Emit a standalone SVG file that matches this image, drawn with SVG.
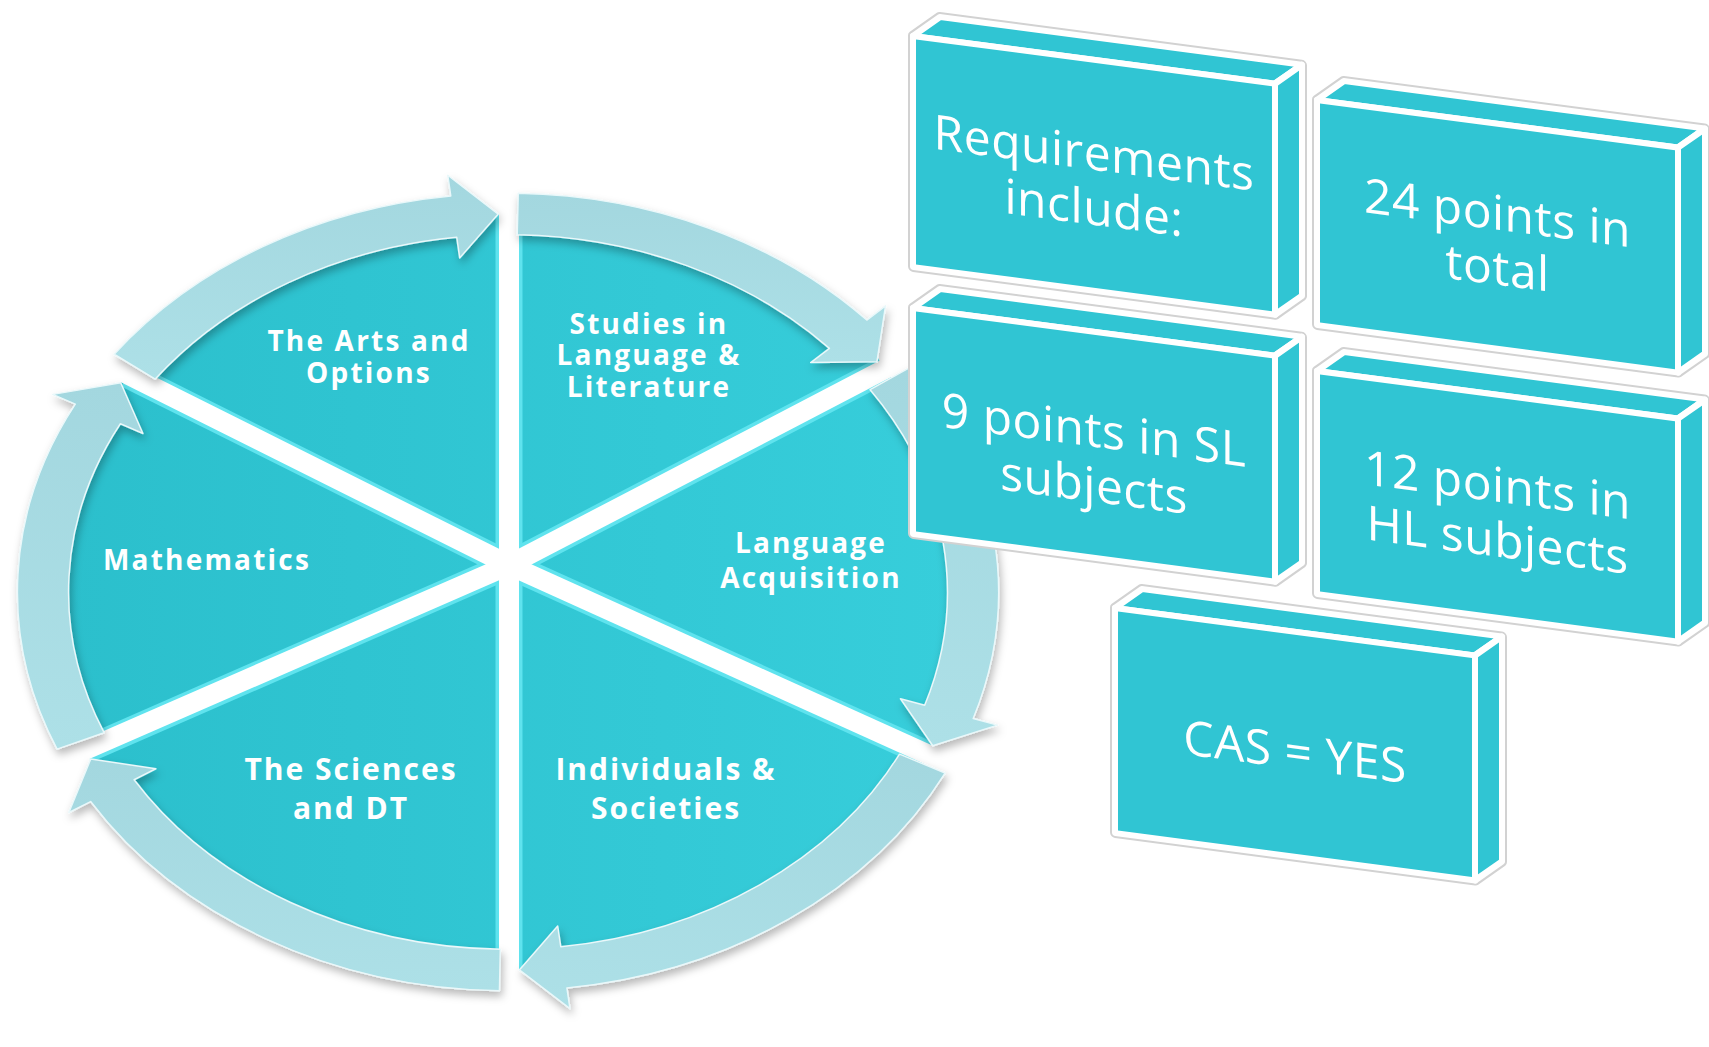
<svg xmlns="http://www.w3.org/2000/svg" width="1709" height="1047" viewBox="0 0 1709 1047">
  <defs>
    <linearGradient id="secGrad" x1="0" y1="0" x2="1" y2="0">
      <stop offset="0" stop-color="#2bbfcc"/>
      <stop offset="1" stop-color="#37cedb"/>
    </linearGradient>
    <linearGradient id="ringGrad" x1="0" y1="0" x2="0" y2="1">
      <stop offset="0" stop-color="#a3d7df"/>
      <stop offset="1" stop-color="#ade0e7"/>
    </linearGradient>
    <filter id="shadow" x="-10%" y="-10%" width="120%" height="125%">
      <feDropShadow dx="2" dy="5" stdDeviation="4" flood-color="#000" flood-opacity="0.28"/>
    </filter>
    <style>
      .seg { fill: url(#ringGrad); stroke: #eaf8fa; stroke-width: 1.5; vector-effect: non-scaling-stroke; stroke-linejoin: round; }
      .gapHi { stroke: #5fe3ee; stroke-width: 27; vector-effect: non-scaling-stroke; }
      .gap { stroke: #ffffff; stroke-width: 20; vector-effect: non-scaling-stroke; stroke-linecap: square; }
      .lbl { font-family: "Open Sans", "DejaVu Sans", sans-serif; font-weight: 700; font-size: 28px; fill: #ffffff; text-anchor: middle; letter-spacing: 2.2px; }
      .lbl2 { font-size: 30px; letter-spacing: 2px; }
      .face { fill: #30c5d3; stroke: #ffffff; stroke-width: 6; stroke-linejoin: round; }
      .sil { fill: #30c5d3; stroke: #d2d2d2; stroke-width: 10; stroke-linejoin: round; }
      .btxt { font-family: "Open Sans", "DejaVu Sans", sans-serif; font-weight: 400; font-size: 48px; fill: #ffffff; text-anchor: middle; letter-spacing: 0.5px; }
    </style>
  </defs>

  <rect width="1709" height="1047" fill="#ffffff"/>

  <!-- Wheel sectors -->
  <g id="wheel">
    <g transform="translate(508,592) scale(4.65,3.78)">
      <circle cx="0" cy="0" r="100" fill="url(#secGrad)"/>
      <g id="gaps">
        <line class="gapHi" x1="0.215" y1="-7.14" x2="0.215" y2="-100"/>
        <line class="gapHi" x1="0.215" y1="-7.14" x2="80.9" y2="-58.8"/>
        <line class="gapHi" x1="0.215" y1="-7.14" x2="90.3" y2="43.0"/>
        <line class="gapHi" x1="0.215" y1="-7.14" x2="0.215" y2="100"/>
        <line class="gapHi" x1="0.215" y1="-7.14" x2="-90.8" y2="41.8"/>
        <line class="gapHi" x1="0.215" y1="-7.14" x2="-81.8" y2="-57.5"/>
        <line class="gap" x1="0.215" y1="-7.14" x2="0.215" y2="-101"/>
        <line class="gap" x1="0.215" y1="-7.14" x2="81.71" y2="-59.37"/>
        <line class="gap" x1="0.215" y1="-7.14" x2="91.16" y2="43.48"/>
        <line class="gap" x1="0.215" y1="-7.14" x2="0.215" y2="101"/>
        <line class="gap" x1="0.215" y1="-7.14" x2="-91.76" y2="42.21"/>
        <line class="gap" x1="0.215" y1="-7.14" x2="-82.63" y2="-58.08"/>
      </g>
    </g>
  </g>

  <!-- Connectors: circular arrows -->
  <g id="connectors" filter="url(#shadow)">
    <g transform="translate(508,592) scale(4.65,3.78)">
      <path id="arrow1" class="seg" d="M -84.70 -62.90 A 105.5 105.5 0 0 1 -12.31 -104.78 L -12.95 -110.25 L -2.09 -99.98 L -10.39 -88.39 L -11.03 -93.86 A 94.5 94.5 0 0 0 -75.86 -56.34 Z"/>
      <path id="arrow2" class="seg" d="M 2.21 -105.48 A 105.5 105.5 0 0 1 77.16 -71.95 L 81.19 -75.70 L 79.34 -60.88 L 65.09 -60.70 L 69.12 -64.45 A 94.5 94.5 0 0 0 1.98 -94.48 Z"/>
      <path id="arrow3" class="seg" d="M 86.94 -59.76 A 105.5 105.5 0 0 1 100.05 33.48 L 105.26 35.22 L 91.35 40.67 L 84.40 28.24 L 89.61 29.98 A 94.5 94.5 0 0 0 77.88 -53.52 Z"/>
      <path id="arrow4" class="seg" d="M 94.00 47.90 A 105.5 105.5 0 0 1 12.67 104.74 L 13.33 110.20 L 2.44 99.97 L 10.69 88.36 L 11.35 93.82 A 94.5 94.5 0 0 0 84.20 42.90 Z"/>
      <path id="arrow5" class="seg" d="M -1.84 105.48 A 105.5 105.5 0 0 1 -89.76 55.44 L -94.44 58.33 L -89.73 44.15 L -75.72 46.77 L -80.40 49.66 A 94.5 94.5 0 0 0 -1.65 94.49 Z"/>
      <path id="arrow6" class="seg" d="M -96.97 41.56 A 105.5 105.5 0 0 1 -93.06 -49.69 L -97.91 -52.28 L -83.29 -55.34 L -78.51 -41.92 L -83.36 -44.51 A 94.5 94.5 0 0 0 -86.86 37.22 Z"/>
    </g>
  </g>

  <!-- Sector labels -->
  <g id="node-arts">
    <text class="lbl" x="369" y="351">The Arts and</text>
    <text class="lbl" x="369" y="383">Options</text>
  </g>
  <g id="node-studies">
    <text class="lbl" x="649" y="334">Studies in</text>
    <text class="lbl" x="649" y="365">Language &amp;</text>
    <text class="lbl" x="649" y="397">Literature</text>
  </g>
  <g id="node-math">
    <text class="lbl" x="207" y="570">Mathematics</text>
  </g>
  <g id="node-langacq">
    <text class="lbl" x="811" y="553">Language</text>
    <text class="lbl" x="811" y="588">Acquisition</text>
  </g>
  <g id="node-sciences">
    <text class="lbl lbl2" x="351" y="780">The Sciences</text>
    <text class="lbl lbl2" x="351" y="819">and DT</text>
  </g>
  <g id="node-individuals">
    <text class="lbl lbl2" x="666" y="780">Individuals &amp;</text>
    <text class="lbl lbl2" x="666" y="819">Societies</text>
  </g>

  <!-- Requirement boxes -->
  <g id="box-requirements" transform="translate(913,36) skewY(7.5)">
    <polygon class="sil" points="0,0 27,-22.5 389,-22.5 389,208.5 362,231 0,231"/>
    <polygon class="face" points="0,0 27,-22.5 389,-22.5 362,0"/>
    <polygon class="face" points="362,0 389,-22.5 389,208.5 362,231"/>
    <rect class="face" x="0" y="0" width="362" height="231"/>
    <text class="btxt" x="181" y="110">Requirements</text>
    <text class="btxt" x="181" y="165">include:</text>
  </g>
  <g id="box-24points" transform="translate(1317,100) skewY(7.5)">
    <polygon class="sil" points="0,0 27,-22.5 388,-22.5 388,202.5 361,225 0,225"/>
    <polygon class="face" points="0,0 27,-22.5 388,-22.5 361,0"/>
    <polygon class="face" points="361,0 388,-22.5 388,202.5 361,225"/>
    <rect class="face" x="0" y="0" width="361" height="225"/>
    <text class="btxt" x="180.5" y="106">24 points in</text>
    <text class="btxt" x="180.5" y="161">total</text>
  </g>
  <g id="box-sl" transform="translate(913,308) skewY(7.5)">
    <polygon class="sil" points="0,0 27,-22.5 389,-22.5 389,203.5 362,226 0,226"/>
    <polygon class="face" points="0,0 27,-22.5 389,-22.5 362,0"/>
    <polygon class="face" points="362,0 389,-22.5 389,203.5 362,226"/>
    <rect class="face" x="0" y="0" width="362" height="226"/>
    <text class="btxt" x="181" y="115">9 points in SL</text>
    <text class="btxt" x="181" y="170">subjects</text>
  </g>
  <g id="box-hl" transform="translate(1317,371) skewY(7.5)">
    <polygon class="sil" points="0,0 27,-22.5 388,-22.5 388,200.5 361,223 0,223"/>
    <polygon class="face" points="0,0 27,-22.5 388,-22.5 361,0"/>
    <polygon class="face" points="361,0 388,-22.5 388,200.5 361,223"/>
    <rect class="face" x="0" y="0" width="361" height="223"/>
    <text class="btxt" x="180.5" y="107">12 points in</text>
    <text class="btxt" x="180.5" y="162">HL subjects</text>
  </g>
  <g id="box-cas" transform="translate(1115,608) skewY(7.5)">
    <polygon class="sil" points="0,0 27,-22.5 387,-22.5 387,202.5 360,225 0,225"/>
    <polygon class="face" points="0,0 27,-22.5 387,-22.5 360,0"/>
    <polygon class="face" points="360,0 387,-22.5 387,202.5 360,225"/>
    <rect class="face" x="0" y="0" width="360" height="225"/>
    <text class="btxt" x="180" y="137">CAS = YES</text>
  </g>
</svg>
